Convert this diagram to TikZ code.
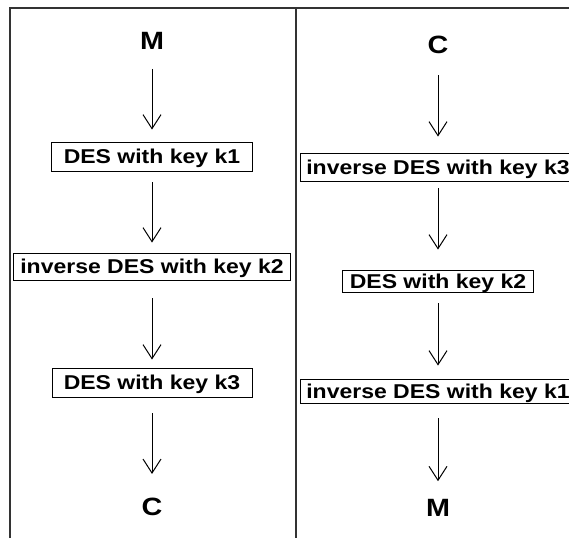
\documentclass[tikz,border=0pt]{standalone}
\usepackage{fontspec}
\setmainfont{Liberation Sans}[FakeStretch=1.15]
\usetikzlibrary{arrows.meta}

\begin{document}
\begin{tikzpicture}[
  x=1pt,
  y=-1pt,
  font=\fontsize{20}{22}\selectfont\bfseries,
  n/.style={draw, line width=0.9pt, inner xsep=2pt, inner ysep=1pt, text depth=0pt},
  lbl/.style={inner sep=0pt, font=\fontsize{25}{27}\selectfont\bfseries},
  arr/.style={-{Straight Barb[length=14pt,width=18pt]}, line width=1pt}
]
\useasboundingbox (0,0) rectangle (569,538);
\clip (0,0) rectangle (569,538);

% Rahmen
\draw[line width=1.3pt, black!80] (10,538) -- (10,8) -- (569,8);
\draw[line width=1.3pt, black!80] (296,8) -- (296,538);

% Verschluesselung (links)
\node[lbl] (encM) at (152,41) {M};
\node[n, minimum width=201, minimum height=29] (encK1) at (152,156.5) {DES with key k1};
\node[n, minimum width=277, minimum height=27] (encK2) at (152,266.5) {inverse DES with key k2};
\node[n, minimum width=200, minimum height=29] (encK3) at (152,382.5) {DES with key k3};
\node[lbl] (encC) at (152,507) {C};

% Entschluesselung (rechts)
\node[lbl] (decC) at (438,45) {C};
\node[n, minimum width=276, minimum height=28] (decK3) at (438,167) {inverse DES with key k3};
\node[n, minimum width=191, minimum height=22] (decK2) at (438,281) {DES with key k2};
\node[n, minimum width=276, minimum height=24] (decK1) at (438,391) {inverse DES with key k1};
\node[lbl] (decM) at (438,508) {M};

% Pfeile
\draw[arr, shorten <=19pt, shorten >=12pt] (encM) -- (encK1);
\draw[arr, shorten <=11pt, shorten >=10pt] (encK1) -- (encK2);
\draw[arr, shorten <=18pt, shorten >=8pt] (encK2) -- (encK3);
\draw[arr, shorten <=16pt, shorten >=24pt] (encK3) -- (encC);

\draw[arr, shorten <=21pt, shorten >=16pt] (decC) -- (decK3);
\draw[arr, shorten <=7pt, shorten >=20pt] (decK3) -- (decK2);
\draw[arr, shorten <=11pt, shorten >=13pt] (decK2) -- (decK1);
\draw[arr, shorten <=15pt, shorten >=18pt] (decK1) -- (decM);

\end{tikzpicture}
\end{document}
